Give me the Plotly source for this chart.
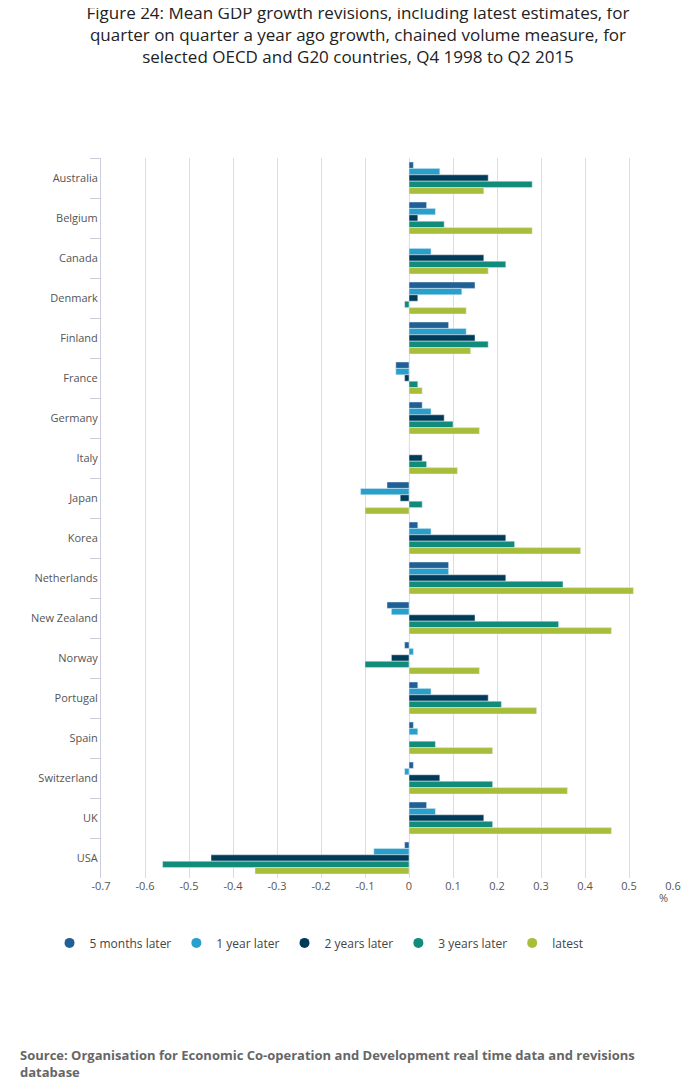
import plotly.graph_objects as go

countries = ["Australia", "Belgium", "Canada", "Denmark", "Finland", "France", "Germany",
             "Italy", "Japan", "Korea", "Netherlands", "New Zealand", "Norway", "Portugal",
             "Spain", "Switzerland", "UK", "USA"]

months5 = [0.01, 0.04, 0.0, 0.15, 0.09, -0.03, 0.03, 0.0, -0.05, 0.02, 0.09, -0.05, -0.01, 0.02, 0.01, 0.01, 0.04, -0.01]
year1 = [0.07, 0.06, 0.05, 0.12, 0.13, -0.03, 0.05, 0.0, -0.11, 0.05, 0.09, -0.04, 0.01, 0.05, 0.02, -0.01, 0.06, -0.08]
years2 = [0.18, 0.02, 0.17, 0.02, 0.15, -0.01, 0.08, 0.03, -0.02, 0.22, 0.22, 0.15, -0.04, 0.18, 0.0, 0.07, 0.17, -0.45]
years3 = [0.28, 0.08, 0.22, -0.01, 0.18, 0.02, 0.10, 0.04, 0.03, 0.24, 0.35, 0.34, -0.10, 0.21, 0.06, 0.19, 0.19, -0.56]
latest = [0.17, 0.28, 0.18, 0.13, 0.14, 0.03, 0.16, 0.11, -0.10, 0.39, 0.51, 0.46, 0.16, 0.29, 0.19, 0.36, 0.46, -0.35]

tick_vals = [-0.7, -0.6, -0.5, -0.4, -0.3, -0.2, -0.1, 0, 0.1, 0.2, 0.3, 0.4, 0.5, 0.6]
tick_text = ["-0.7", "-0.6", "-0.5", "-0.4", "-0.3", "-0.2", "-0.1", "0",
             "0.1", "0.2", "0.3", "0.4", "0.5", "0.6"]

series = [
    ("5 months later", months5, "#206095"),
    ("1 year later", year1, "#27a0cc"),
    ("2 years later", years2, "#003c57"),
    ("3 years later", years3, "#118c7b"),
    ("latest", latest, "#a8bd3a"),
]

fig = go.Figure()
for name, vals, col in series:
    fig.add_trace(go.Bar(y=countries, x=vals, name=name, orientation="h",
                         marker_color=col, showlegend=False))
# circle legend entries
for name, vals, col in series:
    fig.add_trace(go.Scatter(x=[None], y=[None], mode="markers", name=name,
                             marker=dict(color=col, size=10, symbol="circle")))

fig.update_layout(
    title=dict(text="Figure 24: Mean GDP growth revisions, including latest estimates, for<br>"
                    "quarter on quarter a year ago growth, chained volume measure, for<br>"
                    "selected OECD and G20 countries, Q4 1998 to Q2 2015",
               x=0.5, xanchor="center", y=0.99, yanchor="top", font=dict(size=17, color="#222")),
    font=dict(family="Open Sans", size=11, color="#555"),
    width=700, height=1092,
    margin=dict(l=93, r=35, t=150, b=222, autoexpand=False),
    plot_bgcolor="white", paper_bgcolor="white",
    barmode="group", bargap=0.2, bargroupgap=0,
    legend=dict(orientation="h", x=-0.09, xanchor="left", y=-0.07, yanchor="top",
                font=dict(size=12, color="#444")),
)
fig.update_xaxes(range=[-0.7, 0.6], tickvals=tick_vals, ticktext=tick_text, tickangle=0,
                 showgrid=True, gridcolor="#dddddd", zeroline=False, showline=False,
                 ticks="", tickfont=dict(size=11), automargin=False)
fig.update_yaxes(autorange="reversed", showgrid=False, showline=True, linecolor="#ccccdd",
                 ticks="outside", tickson="boundaries", ticklen=10, tickcolor="#ccccdd",
                 tickfont=dict(size=11), automargin=False)
fig.add_annotation(text="%", xref="paper", yref="paper", x=0.995, y=-0.04, showarrow=False,
                   font=dict(size=11))
fig.add_annotation(text="<b>Source: Organisation for Economic Co-operation and Development real time data and revisions<br>database</b>",
                   xref="paper", yref="paper", x=-0.145, y=-0.23, xanchor="left", yanchor="top",
                   align="left", showarrow=False, font=dict(size=13, color="#666"))

fig.write_html("out.html")
